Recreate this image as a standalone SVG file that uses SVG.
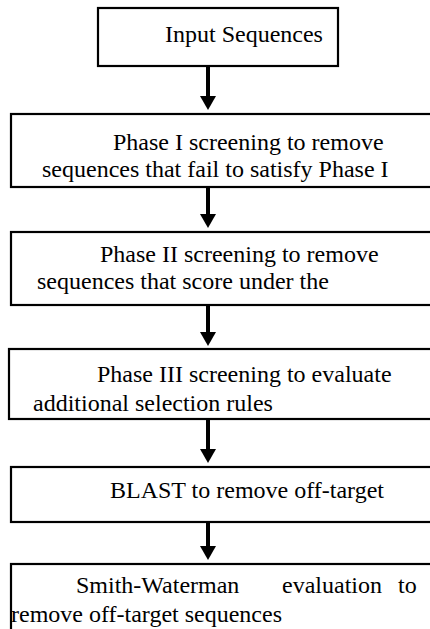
<svg xmlns="http://www.w3.org/2000/svg" width="430" height="629" viewBox="0 0 430 629">
<style>
.box{fill:#fff;stroke:#000;stroke-width:2.2}
.t{font-family:"Liberation Serif","Times New Roman",Tinos,serif;font-size:24px;fill:#000}
.shaft{stroke:#000;stroke-width:4;fill:none}
.head{fill:#000}
</style>
<rect width="430" height="629" fill="#fff"/>
<g font-family="Liberation Serif, serif">
<g id="n1"><rect class="box" x="98" y="8" width="240" height="58"/><text class="t" x="165" y="42">Input Sequences</text></g>
<g id="n2"><rect class="box" x="11" y="114" width="440" height="73"/><text class="t" x="113" y="150">Phase I screening to remove</text><text class="t" x="42" y="177">sequences that fail to satisfy Phase I</text></g>
<g id="n3"><rect class="box" x="11" y="232" width="440" height="73"/><text class="t" x="100" y="262">Phase II screening to remove</text><text class="t" x="37" y="289">sequences that score under the</text></g>
<g id="n4"><rect class="box" x="9" y="349" width="440" height="70"/><text class="t" x="97" y="382">Phase III screening to evaluate</text><text class="t" x="33" y="411">additional selection rules</text></g>
<g id="n5"><rect class="box" x="11" y="467" width="440" height="55"/><text class="t" x="110" y="498">BLAST to remove off-target</text></g>
<g id="n6"><rect class="box" x="11" y="564" width="440" height="80"/><text class="t" x="76" y="593">Smith-Waterman</text><text class="t" x="282" y="593">evaluation</text><text class="t" x="398" y="593">to</text><text class="t" x="11" y="622">remove off-target sequences</text></g>
</g>
<g id="connectors">
<line class="shaft" x1="208" y1="67" x2="208" y2="98"/><polygon class="head" points="200,96 216,96 208,110"/>
<line class="shaft" x1="208" y1="188" x2="208" y2="216"/><polygon class="head" points="200,214 216,214 208,228"/>
<line class="shaft" x1="208" y1="306" x2="208" y2="334"/><polygon class="head" points="200,332 216,332 208,346"/>
<line class="shaft" x1="208" y1="420" x2="208" y2="451"/><polygon class="head" points="200,449 216,449 208,463"/>
<line class="shaft" x1="208" y1="523" x2="208" y2="548"/><polygon class="head" points="200,546 216,546 208,560"/>
</g>
</svg>
